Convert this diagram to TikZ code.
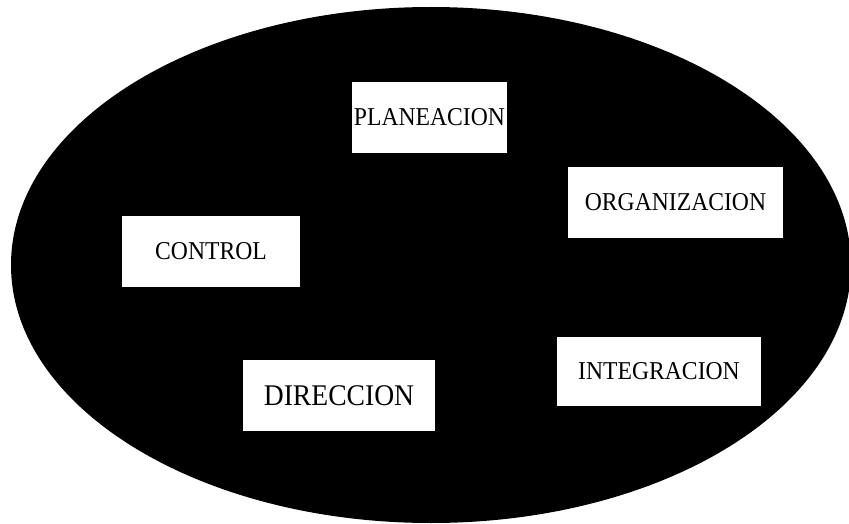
\documentclass[tikz,border=0pt]{standalone}
\usepackage{fontspec}
\setmainfont{Liberation Serif}
\usepackage{graphicx}
\begin{document}
\begin{tikzpicture}[x=1pt,y=-1pt,
  stage/.style={fill=white, inner sep=0pt, outer sep=0pt, align=center,
    font=\fontsize{25.7}{27}\selectfont},
  narrow/.style={execute at begin node={\scalebox{0.92}[1]\bgroup}, execute at end node={\egroup}}]
  \useasboundingbox (0,0) rectangle (849,524);
  % dark oval background
  \fill[black] (431,265) ellipse [x radius=420, y radius=258];
  % management stages
  \node[stage, minimum width=155pt, minimum height=71pt] (plan) at (429.5,117.5) {\scalebox{0.92}[1]{PLANEACION}};
  \node[stage, minimum width=215pt, minimum height=71pt] (org) at (675.5,202.5) {\scalebox{0.92}[1]{ORGANIZACION}};
  \node[stage, minimum width=178pt, minimum height=71pt] (ctrl) at (211,251.5) {\scalebox{0.92}[1]{CONTROL}};
  \node[stage, minimum width=204pt, minimum height=69pt] (integ) at (659,371.5) {\scalebox{0.92}[1]{INTEGRACION}};
  \node[stage, minimum width=192pt, minimum height=71pt, font=\fontsize{30}{32}\selectfont] (dir) at (339,395.5) {\raisebox{-1.5pt}{\scalebox{0.92}[1]{DIRECCION}}};
\end{tikzpicture}
\end{document}
